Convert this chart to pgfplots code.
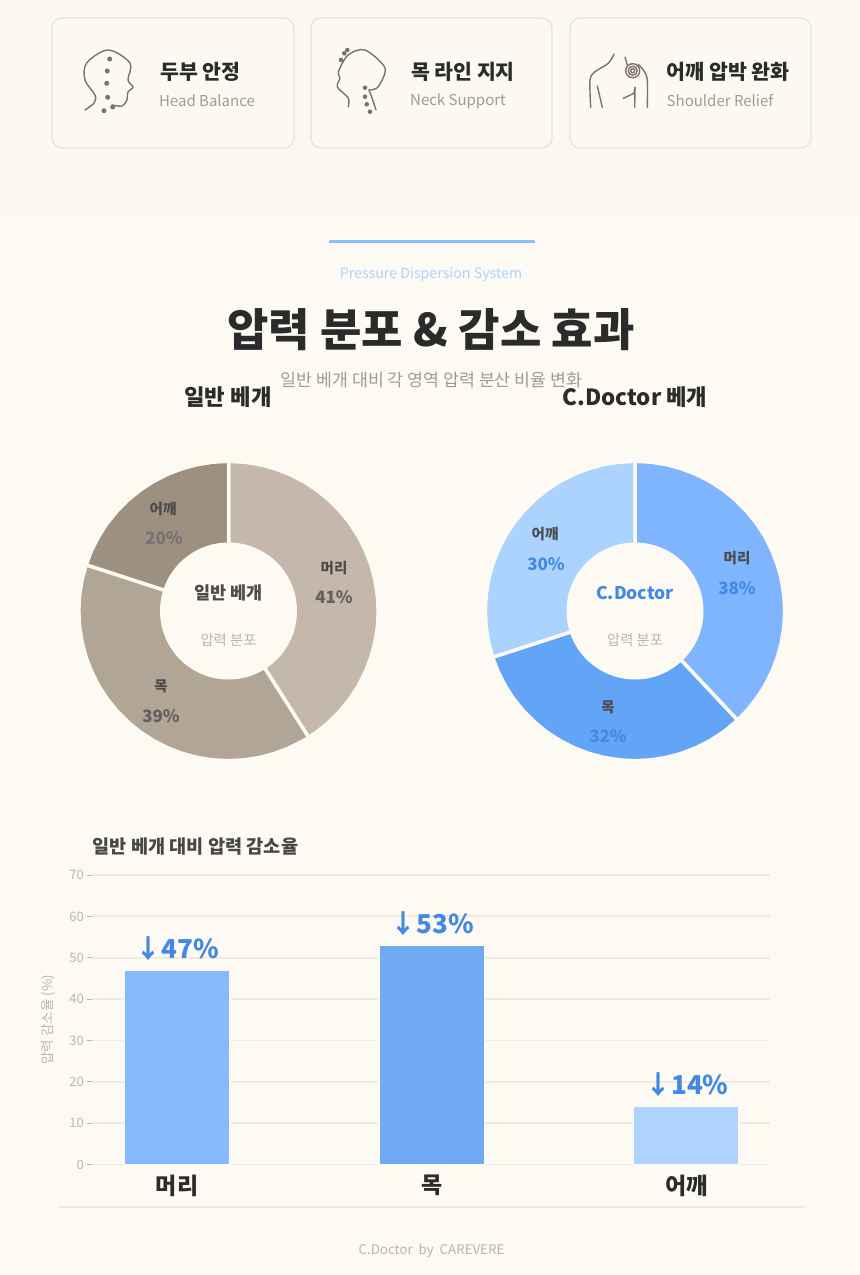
\documentclass[border=0pt]{standalone}
\usepackage{fontspec}
\usepackage{pgfplots}
\pgfplotsset{compat=1.18}
\setmainfont{Noto Sans CJK KR}
\definecolor{bg}{HTML}{FDFAF3}
\definecolor{bgtop}{HTML}{FCF9F2}
\definecolor{cardline}{HTML}{E6E3D4}
\definecolor{ink}{HTML}{2B2B2B}
\definecolor{iconc}{HTML}{7E7266}
\definecolor{lgray}{HTML}{B9B6AE}
\definecolor{tgray}{HTML}{A09C94}
\definecolor{brA}{HTML}{C3B8AB}
\definecolor{brB}{HTML}{B1A595}
\definecolor{brC}{HTML}{9D9080}
\definecolor{blA}{HTML}{7EB5FE}
\definecolor{blB}{HTML}{62A4F5}
\definecolor{blC}{HTML}{ABD3FE}
\definecolor{barA}{HTML}{85B8FD}
\definecolor{barB}{HTML}{6FAAF3}
\definecolor{barC}{HTML}{ADD3FE}
\definecolor{accent}{HTML}{4388E4}
\definecolor{gridc}{HTML}{EFEBDF}
\newcommand\fs[1]{\fontsize{#1bp}{#1bp}\selectfont}
\pgfplotsset{
  pie/.style={hide axis,scale only axis,width=300bp,height=300bp,
    xmin=-150,xmax=150,ymin=-150,ymax=150,clip=false,anchor=center},
  wedge/.style={draw=bg,line width=3.5bp,line join=miter,data cs=polar,mark=none},
}
\begin{document}
\begin{tikzpicture}[x=1bp,y=-1bp]
\useasboundingbox (0,0) rectangle (860,1275);
\fill[bg] (0,0) rectangle (860,1275);
\fill[bgtop] (0,0) rectangle (860,220);

% cards
\foreach \a/\b in {52/294,311/552,570/811}{
  \draw[cardline,line width=1.2bp,rounded corners=10bp,fill=bgtop] (\a,18) rectangle (\b,148);
}
\node[ink,font=\bfseries\fs{20.5},inner sep=0] at (200.5,72) {두부 안정};
\node[tgray,font=\fs{15},inner sep=0] at (207,101) {Head Balance};
\node[ink,font=\bfseries\fs{20.5},inner sep=0] at (463,72) {목 라인 지지};
\node[tgray,font=\fs{15},inner sep=0] at (458,101) {Neck Support};
\node[ink,font=\bfseries\fs{20.5},inner sep=0] at (728,72) {어깨 압박 완화};
\node[tgray,font=\fs{15},inner sep=0] at (720,101) {Shoulder Relief};

% icons
\begin{scope}[iconc,line width=1.4bp,line cap=round,line join=round]
  \draw plot[smooth,tension=.55] coordinates {(85,110)(94,103)(95,95)(85,80)(86.7,63)(108,50)(130,63)(128,80)(133,87)(128,92)(127,100)(122,106)(112,105)};
  \foreach \p in {(109.7,59),(107.3,71),(106.7,83.3),(107.7,97.3),(104,110.7),(112.7,107)} \fill \p circle[radius=2.5];
  \draw plot[smooth,tension=.5] coordinates {(348.3,106.7)(348.3,98)(337.3,87)(340,78)(338.3,72)(348,55)(365,50)(385,68)(378,87)(369,90)};
  \draw plot[smooth,tension=.5] coordinates {(369,90)(372,98)(376,110)};
  \foreach \p in {(341,60),(344.3,53.3),(347.3,50),(365,87.7),(365,96.7),(366.7,104.3),(370,111.7)} \fill \p circle[radius=2.3];
  \draw plot[smooth,tension=.5] coordinates {(614,54)(608.3,63.3)(595,71.7)(590,80)(590.7,107.3)};
  \draw (597.3,86)--(602.3,107.3);
  \draw plot[smooth,tension=.5] coordinates {(625,57.3)(627.3,65)};
  \draw plot[smooth,tension=.5] coordinates {(638,64)(644,71)(647.3,80)(647.3,107.3)};
  \draw (623.3,98.3)--(634,93.3)--(635,87.3);
  \draw (635,87.3)--(634.7,107.3);
  \draw (632.7,70.7) circle[radius=2] (632.7,70.7) circle[radius=4.5] (632.7,70.7) circle[radius=7];
\end{scope}

% heading
\draw[color=blA!90!white,line width=3bp] (329,241)--(535,241);
\node[blC,font=\fs{14.2},inner sep=0] at (431,275) {Pressure Dispersion System};
\node[ink,font=\bfseries\fs{45},inner sep=0] at (431,330) {압력 분포 \& 감소 효과};
\node[tgray,font=\fs{17.3},inner sep=0] at (431.5,380) {일반 베개 대비 각 영역 압력 분산 비율 변화};
\node[ink,font=\bfseries\fs{22.3},inner sep=0] at (228,397) {일반 베개};
\node[ink,font=\bfseries\fs{22.3},inner sep=0] at (635,397) {C.Doctor 베개};

% left pie: 41 / 39 / 20
\begin{axis}[pie,at={(228.5bp,-611bp)}]
\addplot[wedge,fill=brA] coordinates {(0,0)(90,149.7)(84,149.7)(78,149.7)(72,149.7)(66,149.7)(60,149.7)(54,149.7)(48,149.7)(42,149.7)(36,149.7)(30,149.7)(24,149.7)(18,149.7)(12,149.7)(6,149.7)(0,149.7)(-6,149.7)(-12,149.7)(-18,149.7)(-24,149.7)(-30,149.7)(-36,149.7)(-42,149.7)(-48,149.7)(-54,149.7)(-57.6,149.7)} --cycle;
\addplot[wedge,fill=brB] coordinates {(0,0)(-57.6,149.7)(-60,149.7)(-66,149.7)(-72,149.7)(-78,149.7)(-84,149.7)(-90,149.7)(-96,149.7)(-102,149.7)(-108,149.7)(-114,149.7)(-120,149.7)(-126,149.7)(-132,149.7)(-138,149.7)(-144,149.7)(-150,149.7)(-156,149.7)(-162,149.7)(-168,149.7)(-174,149.7)(-180,149.7)(-186,149.7)(-192,149.7)(-198,149.7)} --cycle;
\addplot[wedge,fill=brC] coordinates {(0,0)(162,149.7)(156,149.7)(150,149.7)(144,149.7)(138,149.7)(132,149.7)(126,149.7)(120,149.7)(114,149.7)(108,149.7)(102,149.7)(96,149.7)(90,149.7)} --cycle;
\fill[bg] (axis cs:0,0) circle[radius=68.5];
\node[ink!85,font=\bfseries\fs{14.5},inner sep=0] at (axis cs:105.5,43) {머리};
\node[black!62,font=\bfseries\fs{17},inner sep=0] at (axis cs:105.5,14) {41\%};
\node[ink!85,font=\bfseries\fs{14.5},inner sep=0] at (axis cs:-67.5,-75) {목};
\node[black!62,font=\bfseries\fs{17},inner sep=0] at (axis cs:-67.5,-105) {39\%};
\node[ink!85,font=\bfseries\fs{14.5},inner sep=0] at (axis cs:-65.5,102) {어깨};
\node[black!55,font=\bfseries\fs{17},inner sep=0] at (axis cs:-64.5,73) {20\%};
\node[black!70,font=\bfseries\fs{17.5},inner sep=0] at (axis cs:0,18) {일반 베개};
\node[lgray,font=\fs{14.3},inner sep=0] at (axis cs:0,-29) {압력 분포};
\end{axis}

% right pie: 38 / 32 / 30
\begin{axis}[pie,at={(635bp,-611bp)}]
\addplot[wedge,fill=blA] coordinates {(0,0)(90,149.7)(84,149.7)(78,149.7)(72,149.7)(66,149.7)(60,149.7)(54,149.7)(48,149.7)(42,149.7)(36,149.7)(30,149.7)(24,149.7)(18,149.7)(12,149.7)(6,149.7)(0,149.7)(-6,149.7)(-12,149.7)(-18,149.7)(-24,149.7)(-30,149.7)(-36,149.7)(-42,149.7)(-46.8,149.7)} --cycle;
\addplot[wedge,fill=blB] coordinates {(0,0)(-46.8,149.7)(-48,149.7)(-54,149.7)(-60,149.7)(-66,149.7)(-72,149.7)(-78,149.7)(-84,149.7)(-90,149.7)(-96,149.7)(-102,149.7)(-108,149.7)(-114,149.7)(-120,149.7)(-126,149.7)(-132,149.7)(-138,149.7)(-144,149.7)(-150,149.7)(-156,149.7)(-162,149.7)} --cycle;
\addplot[wedge,fill=blC] coordinates {(0,0)(198,149.7)(192,149.7)(186,149.7)(180,149.7)(174,149.7)(168,149.7)(162,149.7)(156,149.7)(150,149.7)(144,149.7)(138,149.7)(132,149.7)(126,149.7)(120,149.7)(114,149.7)(108,149.7)(102,149.7)(96,149.7)(90,149.7)} --cycle;
\fill[bg] (axis cs:0,0) circle[radius=68.5];
\node[ink!85,font=\bfseries\fs{14.5},inner sep=0] at (axis cs:102,53) {머리};
\node[accent,font=\bfseries\fs{17},inner sep=0] at (axis cs:102,23) {38\%};
\node[ink!85,font=\bfseries\fs{14.5},inner sep=0] at (axis cs:-27,-96) {목};
\node[accent,font=\bfseries\fs{17},inner sep=0] at (axis cs:-27,-125) {32\%};
\node[ink!85,font=\bfseries\fs{14.5},inner sep=0] at (axis cs:-90,77) {어깨};
\node[accent,font=\bfseries\fs{17},inner sep=0] at (axis cs:-89,47) {30\%};
\node[accent,font=\bfseries\fs{17.5},inner sep=0] at (axis cs:0,18) {C.Doctor};
\node[lgray,font=\fs{14.3},inner sep=0] at (axis cs:0,-29) {압력 분포};
\end{axis}

% bar chart
\node[black!72,font=\bfseries\fs{18.6},inner sep=0] at (195.5,846.5) {일반 베개 대비 압력 감소율};
\begin{axis}[
  at={(92bp,-1164.5bp)},anchor=south west,scale only axis,
  width=678bp,height=289.5bp,
  xmin=-0.3337,xmax=2.328,ymin=0,ymax=70,
  ytick={0,10,...,70},xtick={0,1,2},xticklabels={머리,목,어깨},
  ytick pos=left,xtick pos=bottom,
  /pgf/number format/assume math mode=true,
  axis line style={draw=none},
  ymajorgrids,grid style={gridc,line width=1.8bp},
  tick align=outside,major tick length=5bp,
  xtick style={draw=none},ytick style={color=lgray,line width=1bp},
  yticklabel style={lgray,font=\fs{13},inner sep=0,xshift=-3bp},
  xticklabel style={ink,font=\bfseries\fs{23},inner sep=0,yshift=-5bp},
  every axis y label/.style={at={(axis description cs:-0.065,0.5)},rotate=90,anchor=center,color=lgray,font=\fs{13.5},inner sep=0},
  ylabel={압력 감소율 (\%)},
  ybar,bar shift=0pt,bar width=105.5bp,clip=false,
  point meta=y,
  nodes near coords={↓\pgfmathprintnumber{\pgfplotspointmeta}\%},
  every node near coord/.append style={accent,font=\bfseries\fs{26},inner sep=0,anchor=south,yshift=9bp,xshift=0.5bp},
]
\addplot[fill=barA,draw=bg,line width=1.5bp] coordinates {(0,47)};
\addplot[fill=barB,draw=bg,line width=1.5bp] coordinates {(1,53)};
\addplot[fill=barC,draw=bg,line width=1.5bp] coordinates {(2,14)};
\end{axis}
\draw[color=gridc,line width=2bp] (58,1207)--(805,1207);
\node[lgray,font=\fs{13.3},inner sep=0] at (431.5,1251) {C.Doctor\ \ by\ \ CAREVERE};
\end{tikzpicture}
\end{document}
